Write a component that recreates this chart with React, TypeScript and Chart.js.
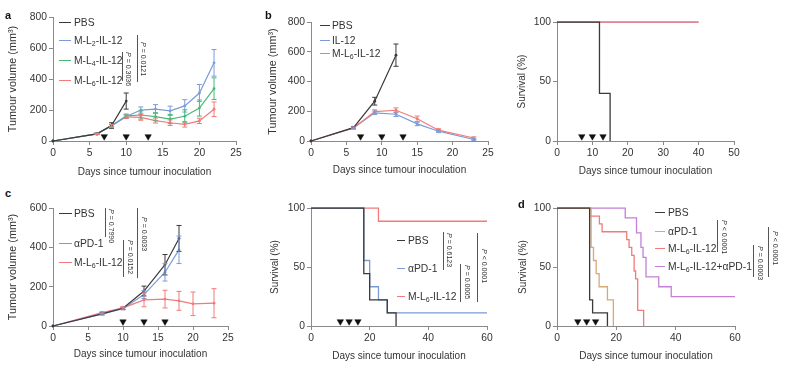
import React, { useEffect, useRef } from "react";
import { Chart, registerables } from "chart.js";

Chart.register(...registerables);

const FONT = "'Liberation Sans', Arial, Helvetica, sans-serif";
const AXIS = "#8a8a8a";
const TEXT = "#333333";
const C_PBS = "#3a3a3a";
const C_BLUE = "#7b9bd9";
const C_GREEN = "#45bb76";
const C_RED = "#f27a7a";
const C_TAN = "#d8a878";
const C_PURPLE = "#c480d4";

const xTitle = "Days since tumour inoculation";
const volTitle = "Tumour volume (mm³)";
const survTitle = "Survival (%)";

// ---------- Panel a: tumour volume ----------
const aDays = [0, 6, 8, 10, 12, 14, 16, 18, 20, 22];
const aPBS = [0, 46, 100, 258];
const aPBSErr = [0, 5, 18, 52];
const aL2 = [0, 46, 98, 158, 200, 206, 195, 227, 310, 505];
const aL2Err = [0, 4, 8, 12, 20, 29, 30, 40, 55, 86];
const aL4 = [0, 46, 98, 162, 168, 157, 142, 160, 213, 338];
const aL4Err = [0, 4, 8, 12, 26, 26, 30, 42, 52, 70];
const aL6 = [0, 46, 98, 156, 153, 132, 118, 108, 130, 205];
const aL6Err = [0, 4, 8, 10, 19, 16, 18, 18, 17, 47];
const aTreat = [7, 10, 13];
const aXTicks = [0, 5, 10, 15, 20, 25];
const aYTicks = [0, 200, 400, 600, 800];
const aNames = ["PBS", "M-L2-IL-12", "M-L4-IL-12", "M-L6-IL-12"];
const aPvals = ["= 0.3036", "= 0.0121"];

// ---------- Panel b: tumour volume ----------
const bDays = [0, 6, 9, 12, 15, 18, 23];
const bPBS = [0, 90, 268, 578];
const bPBSErr = [0, 8, 26, 75];
const bIL12 = [0, 88, 190, 180, 115, 66, 10];
const bIL12Err = [0, 6, 12, 15, 12, 10, 6];
const bML6 = [0, 88, 198, 207, 150, 73, 20];
const bML6Err = [0, 6, 12, 16, 18, 10, 8];
const bTreat = [7, 10, 13];
const bXTicks = [0, 5, 10, 15, 20, 25];
const bYTicks = [0, 200, 400, 600, 800];
const bNames = ["PBS", "IL-12", "M-L6-IL-12"];

// ---------- Panel b: survival ----------
const bsPBSDays = [0, 12, 15];
const bsPBSSurv = [100, 40, 0];
const bsIL12Days = [0, 40];
const bsIL12Surv = [100, 100];
const bsML6Days = [0, 40];
const bsML6Surv = [100, 100];
const bsTreat = [7, 10, 13];
const bsXTicks = [0, 10, 20, 30, 40, 50];
const bsYTicks = [0, 50, 100];

// ---------- Panel c: tumour volume ----------
const cDays = [0, 7, 10, 13, 16, 18, 20, 23];
const cPBS = [0, 62, 90, 178, 312, 446];
const cPBSErr = [0, 5, 6, 25, 52, 66];
const cPD1 = [0, 62, 88, 160, 274, 388];
const cPD1Err = [0, 5, 6, 20, 45, 70];
const cML6 = [0, 68, 92, 133, 137, 128, 113, 116];
const cML6Err = [0, 5, 6, 35, 45, 48, 60, 74];
const cTreat = [10, 13, 16];
const cXTicks = [0, 5, 10, 15, 20, 25];
const cYTicks = [0, 200, 400, 600];
const cNames = ["PBS", "αPD-1", "M-L6-IL-12"];
const cPvals = ["= 0.7990", "= 0.0152", "= 0.0033"];

// ---------- Panel c: survival ----------
const csPBSDays = [0, 18, 20, 26, 29];
const csPBSSurv = [100, 44.4, 22.2, 11.1, 0];
const csPD1Days = [0, 18, 20, 23, 26, 60];
const csPD1Surv = [100, 55.6, 33.3, 22.2, 11.1, 11.1];
const csML6Days = [0, 23, 60];
const csML6Surv = [100, 88.9, 88.9];
const csTreat = [10, 13, 16];
const csXTicks = [0, 20, 40, 60];
const csYTicks = [0, 50, 100];
const csPvals = ["= 0.6123", "= 0.0005", "< 0.0001"];

// ---------- Panel d: survival ----------
const dPBSDays = [0, 11, 12, 17];
const dPBSSurv = [100, 22.2, 11.1, 0];
const dPD1Days = [0, 11.5, 12.3, 13.2, 14.2, 17, 19];
const dPD1Surv = [100, 66.7, 55.6, 44.4, 33.3, 22.2, 0];
const dML6Days = [0, 11, 14.3, 15.2, 23.5, 24.3, 25.2, 26, 26.5, 27.2, 29.2];
const dML6Surv = [100, 93.3, 86.7, 80, 73.3, 66.7, 60, 46.7, 40, 13.3, 0];
const dComboDays = [0, 23, 26.8, 28.3, 29, 30, 34.3, 38.5, 60];
const dComboSurv = [100, 91.7, 79, 66.7, 58.3, 41.7, 33.3, 25, 25];
const dTreat = [7, 10, 13];
const dXTicks = [0, 20, 40, 60];
const dYTicks = [0, 50, 100];
const dNames = ["PBS", "αPD-1", "M-L6-IL-12", "M-L6-IL-12+αPD-1"];
const dPvals = ["< 0.0001", "= 0.0003", "< 0.0001"];

// ---------- helpers ----------
const pts = (xs: number[], ys: number[]) => ys.map((y, i) => ({ x: xs[i], y }));

function tumourDs(xs: number[], ys: number[], errs: number[], color: string) {
  return {
    data: pts(xs, ys),
    errors: errs,
    borderColor: color,
    backgroundColor: color,
    borderWidth: 1.2,
    pointRadius: 1.4,
    pointBackgroundColor: color,
    pointBorderWidth: 0,
    clip: false,
  };
}
function survDs(xs: number[], ys: number[], color: string) {
  return {
    data: pts(xs, ys),
    borderColor: color,
    backgroundColor: color,
    borderWidth: 1.3,
    pointRadius: 0,
    stepped: true,
    clip: false,
  };
}
function treatDs(xs: number[], level: number) {
  return {
    data: xs.map((x) => ({ x, y: level })),
    showLine: false,
    pointStyle: "triangle",
    pointRotation: 180,
    pointRadius: 3.7,
    pointBackgroundColor: "#111",
    pointBorderColor: "#111",
    pointBorderWidth: 0.5,
    clip: false,
  };
}

const errorBarPlugin = {
  id: "errbars",
  afterDatasetsDraw(chart: any) {
    const ctx = chart.ctx;
    const yScale = chart.scales.y;
    chart.data.datasets.forEach((ds: any, di: number) => {
      const errs = ds.errors;
      if (!errs) return;
      const meta = chart.getDatasetMeta(di);
      ctx.save();
      ctx.strokeStyle = ds.borderColor;
      ctx.lineWidth = 1;
      meta.data.forEach((pt: any, i: number) => {
        const e = errs[i];
        if (!e) return;
        const v = ds.data[i].y;
        const y1 = yScale.getPixelForValue(v + e);
        const y2 = yScale.getPixelForValue(v - e);
        const x = pt.x;
        ctx.beginPath();
        ctx.moveTo(x, y1);
        ctx.lineTo(x, y2);
        ctx.moveTo(x - 2.5, y1);
        ctx.lineTo(x + 2.5, y1);
        ctx.moveTo(x - 2.5, y2);
        ctx.lineTo(x + 2.5, y2);
        ctx.stroke();
      });
      ctx.restore();
    });
  },
};

type Geom = { left: number; top: number; width: number; height: number; yw: number; xh: number; padTop: number; padRight: number };

function geom(l: number, t: number, r: number, b: number, yTitleX: number, xTitleY: number): Geom {
  const padTop = 8;
  const padRight = 14;
  const left = yTitleX - 10;
  const top = t - padTop;
  return {
    left,
    top,
    width: r + padRight - left,
    height: xTitleY + 10 - top,
    yw: l - left,
    xh: xTitleY + 10 - b,
    padTop,
    padRight,
  };
}

type PanelDef = {
  g: Geom;
  xTicks: number[];
  yTicks: number[];
  yTitle: string;
  yTitleSize: number;
  datasets: any[];
};

function makeConfig(p: PanelDef): any {
  const font = { family: FONT, size: 10 };
  const tickFont = { family: FONT, size: 10.3 };
  const common = {
    type: "linear",
    grid: { drawOnChartArea: false, drawTicks: true, tickLength: 4, color: AXIS, lineWidth: 1 },
    border: { display: true, color: AXIS, width: 1 },
  };
  return {
    type: "line",
    data: { datasets: p.datasets },
    options: {
      animation: false,
      responsive: false,
      maintainAspectRatio: false,
      layout: { padding: { top: p.g.padTop, right: p.g.padRight, left: 0, bottom: 0 } },
      plugins: { legend: { display: false }, tooltip: { enabled: false } },
      elements: { line: { tension: 0 } },
      scales: {
        x: {
          ...common,
          min: p.xTicks[0],
          max: p.xTicks[p.xTicks.length - 1],
          afterBuildTicks: (s: any) => {
            s.ticks = p.xTicks.map((v) => ({ value: v }));
          },
          afterFit: (s: any) => {
            s.height = p.g.xh;
          },
          ticks: { font: tickFont, color: TEXT, maxRotation: 0, minRotation: 0, autoSkip: false, padding: 2 },
          title: { display: true, text: xTitle, font, color: TEXT, padding: { top: 4, bottom: 4 } },
        },
        y: {
          ...common,
          min: p.yTicks[0],
          max: p.yTicks[p.yTicks.length - 1],
          afterBuildTicks: (s: any) => {
            s.ticks = p.yTicks.map((v) => ({ value: v }));
          },
          afterFit: (s: any) => {
            s.width = p.g.yw;
          },
          ticks: { font: tickFont, color: TEXT, autoSkip: false, padding: 2 },
          title: {
            display: true,
            text: p.yTitle,
            font: { family: FONT, size: p.yTitleSize, lineHeight: 12 / p.yTitleSize },
            color: TEXT,
            padding: { top: 4, bottom: 4 },
          },
        },
      },
    },
    plugins: [errorBarPlugin],
  };
}

function ChartPanel({ p }: { p: PanelDef }) {
  const ref = useRef<HTMLCanvasElement>(null);
  useEffect(() => {
    const chart = new Chart(ref.current as HTMLCanvasElement, makeConfig(p));
    return () => chart.destroy();
  }, []);
  return (
    <canvas
      ref={ref}
      width={p.g.width}
      height={p.g.height}
      style={{ position: "absolute", left: p.g.left, top: p.g.top, width: p.g.width, height: p.g.height }}
    />
  );
}

function renderLabel(s: string) {
  const m = s.match(/^(.*?M-L)(\d)(.*)$/);
  if (!m) return s;
  return (
    <>
      {m[1]}
      <sub style={{ fontSize: 7, verticalAlign: "-2px", lineHeight: 0 }}>{m[2]}</sub>
      {m[3]}
    </>
  );
}

function Legend({ names, colors, x1, x2, tx, ys }: { names: string[]; colors: string[]; x1: number; x2: number; tx: number; ys: number[] }) {
  return (
    <>
      {names.map((n, i) => (
        <React.Fragment key={i}>
          <div style={{ position: "absolute", left: x1, top: ys[i] - 0.6, width: x2 - x1, height: 0, borderTop: `1.3px solid ${colors[i]}` }} />
          <div style={{ position: "absolute", left: tx, top: ys[i] - 7, height: 14, lineHeight: "14px", fontSize: 10.3, color: TEXT, whiteSpace: "nowrap" }}>
            {renderLabel(n)}
          </div>
        </React.Fragment>
      ))}
    </>
  );
}

function Bracket({ x, y1, y2, tx, ty, text }: { x: number; y1: number; y2: number; tx: number; ty: number; text: string }) {
  return (
    <>
      <div style={{ position: "absolute", left: x, top: y1, width: 0, height: y2 - y1, borderLeft: "1px solid #555" }} />
      <div style={{ position: "absolute", left: tx, top: ty, writingMode: "vertical-rl", fontSize: 7, lineHeight: "8px", color: TEXT, whiteSpace: "nowrap" }}>
        <i>P</i> {text}
      </div>
    </>
  );
}

function Letter({ x, y, t }: { x: number; y: number; t: string }) {
  return (
    <div style={{ position: "absolute", left: x, top: y - 7, lineHeight: "14px", fontSize: 11, fontWeight: "bold", color: "#111" }}>{t}</div>
  );
}

const panels: PanelDef[] = [
  {
    g: geom(53, 17, 236, 141, 13, 172),
    xTicks: aXTicks,
    yTicks: aYTicks,
    yTitle: volTitle,
    yTitleSize: 10.8,
    datasets: [
      treatDs(aTreat, 29),
      tumourDs(aDays, aPBS, aPBSErr, C_PBS),
      tumourDs(aDays, aL2, aL2Err, C_BLUE),
      tumourDs(aDays, aL4, aL4Err, C_GREEN),
      tumourDs(aDays, aL6, aL6Err, C_RED),
    ],
  },
  {
    g: geom(311, 22, 488, 141, 273, 170),
    xTicks: bXTicks,
    yTicks: bYTicks,
    yTitle: volTitle,
    yTitleSize: 10.8,
    datasets: [
      treatDs(bTreat, 30),
      tumourDs(bDays, bPBS, bPBSErr, C_PBS),
      tumourDs(bDays, bML6, bML6Err, C_RED),
      tumourDs(bDays, bIL12, bIL12Err, C_BLUE),
    ],
  },
  {
    g: geom(557, 22, 734, 141, 522, 171),
    xTicks: bsXTicks,
    yTicks: bsYTicks,
    yTitle: survTitle,
    yTitleSize: 10,
    datasets: [
      treatDs(bsTreat, 3.8),
      survDs(bsPBSDays, bsPBSSurv, C_PBS),
      survDs(bsML6Days, bsML6Surv, C_RED),
      survDs(bsIL12Days, bsIL12Surv, C_BLUE),
    ],
  },
  {
    g: geom(53, 208, 228, 326, 13, 354),
    xTicks: cXTicks,
    yTicks: cYTicks,
    yTitle: volTitle,
    yTitleSize: 10.8,
    datasets: [
      treatDs(cTreat, 22),
      tumourDs(cDays, cPBS, cPBSErr, C_PBS),
      tumourDs(cDays, cPD1, cPD1Err, C_BLUE),
      tumourDs(cDays, cML6, cML6Err, C_RED),
    ],
  },
  {
    g: geom(311, 208, 487, 326, 275, 356),
    xTicks: csXTicks,
    yTicks: csYTicks,
    yTitle: survTitle,
    yTitleSize: 10,
    datasets: [
      treatDs(csTreat, 3.8),
      survDs(csPBSDays, csPBSSurv, C_PBS),
      survDs(csPD1Days, csPD1Surv, C_BLUE),
      survDs(csML6Days, csML6Surv, C_RED),
    ],
  },
  {
    g: geom(557, 208, 735, 326, 523, 356),
    xTicks: dXTicks,
    yTicks: dYTicks,
    yTitle: survTitle,
    yTitleSize: 10,
    datasets: [
      treatDs(dTreat, 3.8),
      survDs(dPBSDays, dPBSSurv, C_PBS),
      survDs(dPD1Days, dPD1Surv, C_TAN),
      survDs(dML6Days, dML6Surv, C_RED),
      survDs(dComboDays, dComboSurv, C_PURPLE),
    ],
  },
];

export default function App() {
  return (
    <div
      style={{
        position: "absolute",
        left: 0,
        top: 0,
        width: 794,
        height: 367,
        background: "#ffffff",
        fontFamily: FONT,
        overflow: "hidden",
      }}
    >
      {panels.map((p, i) => (
        <ChartPanel key={i} p={p} />
      ))}

      <Letter x={5} y={15} t="a" />
      <Letter x={265} y={15} t="b" />
      <Letter x={5} y={193} t="c" />
      <Letter x={518} y={204} t="d" />

      <Legend names={aNames} colors={[C_PBS, C_BLUE, C_GREEN, C_RED]} x1={59} x2={71} tx={74} ys={[23, 41, 61, 81]} />
      <Bracket x={122} y1={52} y2={81} tx={124} ty={52} text={aPvals[0]} />
      <Bracket x={137} y1={35} y2={82} tx={139} ty={42} text={aPvals[1]} />

      <Legend names={bNames} colors={[C_PBS, C_BLUE, C_RED]} x1={320} x2={330} tx={332} ys={[26, 40.5, 54]} />

      <Legend names={cNames} colors={[C_PBS, C_BLUE, C_RED]} x1={59} x2={72} tx={74} ys={[214, 243.5, 263]} />
      <Bracket x={105} y1={208} y2={237} tx={107} ty={209} text={cPvals[0]} />
      <Bracket x={123} y1={240} y2={277} tx={125.5} ty={240} text={cPvals[1]} />
      <Bracket x={137} y1={208} y2={278} tx={139.5} ty={217} text={cPvals[2]} />

      <Legend names={cNames} colors={[C_PBS, C_BLUE, C_RED]} x1={397} x2={405} tx={408} ys={[240.5, 268.5, 296.5]} />
      <Bracket x={443} y1={232} y2={270} tx={445} ty={233} text={csPvals[0]} />
      <Bracket x={460} y1={264} y2={302} tx={463} ty={265} text={csPvals[1]} />
      <Bracket x={477} y1={233} y2={302} tx={480} ty={249} text={csPvals[2]} />

      <Legend names={dNames} colors={[C_PBS, C_TAN, C_RED, C_PURPLE]} x1={655} x2={665} tx={668} ys={[212.5, 231.5, 248.5, 267]} />
      <Bracket x={717} y1={220} y2={252} tx={719.5} ty={220} text={dPvals[0]} />
      <Bracket x={753} y1={245} y2={277} tx={755.5} ty={246} text={dPvals[1]} />
      <Bracket x={768} y1={227} y2={277} tx={771} ty={231} text={dPvals[2]} />
    </div>
  );
}
